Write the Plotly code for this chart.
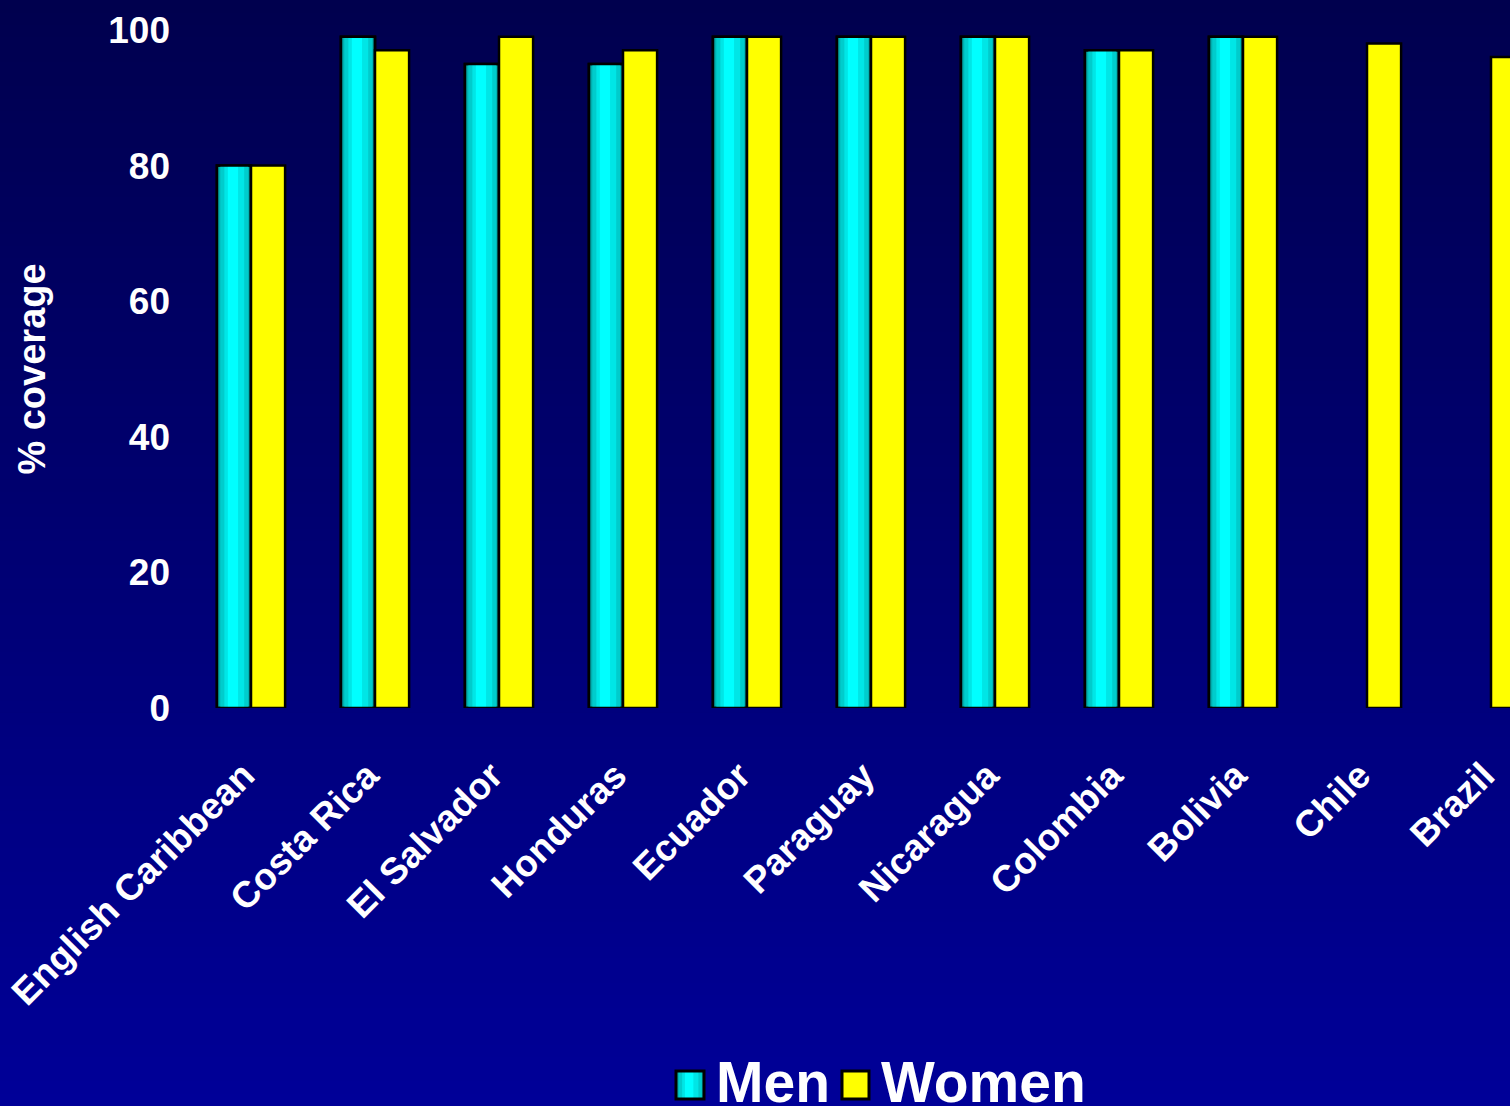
import plotly.graph_objects as go

countries = ["English Caribbean", "Costa Rica", "El Salvador", "Honduras", "Ecuador",
             "Paraguay", "Nicaragua", "Colombia", "Bolivia", "Chile", "Brazil"]
men = [80, 99, 95, 95, 99, 99, 99, 97, 99, None, None]
women = [80, 97, 99, 97, 99, 99, 99, 97, 99, 98, 96]
y_ticks = [0, 20, 40, 60, 80, 100]
series_names = ["Men", "Women"]

W, H = 1510, 1106
L, R, T, B = 189, 0, 30, 398
pw, ph = W - L - R, H - T - B
cat_px = 124.0
bw = 0.275

FONT = "Liberation Sans, Arial, sans-serif"
MEN_BASE = "#00AFAF"
stripes = [(0.10, 0.92, "#00CCCC"), (0.22, 0.80, "#00E6E6"), (0.32, 0.62, "#00FFFF")]
WOMEN_C = "#FFFF00"


def px2x(px):
    return (px - L) / pw


def px2y(py):
    return (H - B - py) / ph


fig = go.Figure()

# Men: base bar, cylinder stripes, outline on top
fig.add_trace(go.Bar(x=countries, y=men, name=series_names[0], offset=-bw, width=bw,
                     marker=dict(color=MEN_BASE, line=dict(color="black", width=2.5)),
                     hoverinfo="skip", showlegend=False))
for a, b, c in stripes:
    fig.add_trace(go.Bar(x=countries, y=men, offset=-bw + a * bw, width=(b - a) * bw,
                         marker=dict(color=c, line=dict(width=0)),
                         showlegend=False, hoverinfo="skip"))
fig.add_trace(go.Bar(x=countries, y=men, offset=-bw, width=bw,
                     marker=dict(color="rgba(0,0,0,0)", line=dict(color="black", width=2.5)),
                     showlegend=False, hoverinfo="skip"))
fig.add_trace(go.Bar(x=countries, y=women, name=series_names[1], offset=0, width=bw,
                     marker=dict(color=WOMEN_C, line=dict(color="black", width=2.5)),
                     hoverinfo="skip", showlegend=False))

# background gradient (dark navy top -> brighter blue bottom)
n = 90
top_c, bot_c = (0, 0, 78), (0, 0, 152)
shapes = []
for i in range(n):
    py0 = H * i / n
    py1 = H * (i + 1) / n + 1
    t = (i + 0.5) / n
    col = tuple(round(top_c[k] + (bot_c[k] - top_c[k]) * t) for k in range(3))
    shapes.append(dict(type="rect", xref="paper", yref="paper", layer="below",
                       x0=px2x(-5), x1=px2x(W + 5),
                       y0=px2y(py1), y1=px2y(py0),
                       line=dict(width=0), fillcolor="rgb(%d,%d,%d)" % col))

# legend (drawn manually to match the large swatches)
sy0, sy1 = 1071, 1099
mx0, mx1 = 676, 704
shapes.append(dict(type="rect", xref="paper", yref="paper", x0=px2x(mx0), x1=px2x(mx1),
                   y0=px2y(sy1), y1=px2y(sy0), line=dict(width=0), fillcolor=MEN_BASE))
for a, b, c in stripes:
    shapes.append(dict(type="rect", xref="paper", yref="paper",
                       x0=px2x(mx0 + a * (mx1 - mx0)), x1=px2x(mx0 + b * (mx1 - mx0)),
                       y0=px2y(sy1), y1=px2y(sy0), line=dict(width=0), fillcolor=c))
shapes.append(dict(type="rect", xref="paper", yref="paper", x0=px2x(mx0), x1=px2x(mx1),
                   y0=px2y(sy1), y1=px2y(sy0), line=dict(color="black", width=3),
                   fillcolor="rgba(0,0,0,0)"))
wx0, wx1 = 842, 869
shapes.append(dict(type="rect", xref="paper", yref="paper", x0=px2x(wx0), x1=px2x(wx1),
                   y0=px2y(sy1), y1=px2y(sy0), line=dict(color="black", width=3),
                   fillcolor=WOMEN_C))

annotations = [
    dict(text=series_names[0], xref="paper", yref="paper", x=px2x(714), y=px2y(1082),
         xanchor="left", yanchor="middle", showarrow=False,
         font=dict(size=57, color="white", family=FONT, weight="bold")),
    dict(text=series_names[1], xref="paper", yref="paper", x=px2x(879), y=px2y(1082),
         xanchor="left", yanchor="middle", showarrow=False,
         font=dict(size=57, color="white", family=FONT, weight="bold")),
]

xmax = -0.5 + pw / cat_px

fig.update_layout(
    width=W, height=H,
    margin=dict(l=L, r=R, t=T, b=B, pad=0),
    barmode="overlay",
    paper_bgcolor="rgb(0,0,115)",
    plot_bgcolor="rgba(0,0,0,0)",
    font=dict(family=FONT, color="white", size=37, weight="bold"),
    shapes=shapes,
    annotations=annotations,
    showlegend=False,
    xaxis=dict(range=[-0.5, xmax], showgrid=False, zeroline=False, showline=False,
               ticks="", tickangle=-45, tickfont=dict(size=37, color="white"),
               tickmode="array", tickvals=countries,
               ticktext=[c + "\u00a0" for c in countries],
               ticklabelstandoff=30),
    yaxis=dict(range=[0, 100], tickvals=y_ticks, showgrid=False, zeroline=False,
               showline=False, ticks="", tickfont=dict(size=37, color="white"),
               ticklabelstandoff=18,
               title=dict(text="% coverage", font=dict(size=38, color="white"), standoff=50)),
)

fig.write_html("out.html",
               config={"displayModeBar": False},
               post_script="document.body.style.margin='0';document.body.style.overflow='hidden';"
                           "document.body.style.background='rgb(0,0,152)';")
